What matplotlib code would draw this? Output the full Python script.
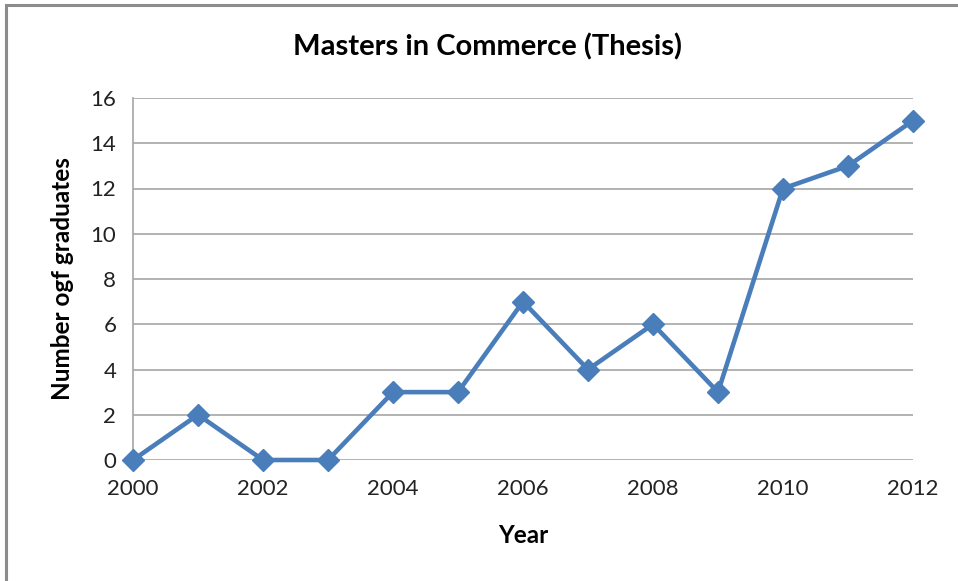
import matplotlib.pyplot as plt
from matplotlib.patches import Rectangle

years = [2000, 2001, 2002, 2003, 2004, 2005, 2006, 2007, 2008, 2009, 2010, 2011, 2012]
graduates = [0, 2, 0, 0, 3, 3, 7, 4, 6, 3, 12, 13, 15]
xticks = [2000, 2002, 2004, 2006, 2008, 2010, 2012]
yticks = [0, 2, 4, 6, 8, 10, 12, 14, 16]

plt.rcParams['font.family'] = ['Lato', 'DejaVu Sans']

W, H = 958, 581
fig = plt.figure(figsize=(W / 100, H / 100), dpi=100)

# outer chart frame (runs off the right and bottom edges)
fig.patches.append(Rectangle((6 / W, -0.05), 1.1, 1 - 5 / H + 0.05, transform=fig.transFigure,
                             fill=False, edgecolor='#8c8c8c', linewidth=2.2))

ax = fig.add_axes([133 / W, 1 - 460 / H, (913 - 133) / W, (460 - 98) / H])
ax.plot(years, graduates, color='#4a7ebb', linewidth=3.3, marker='D', markersize=11,
        clip_on=False, zorder=3)

ax.set_xlim(2000, 2012)
ax.set_ylim(0, 16)
ax.set_xticks(xticks)
ax.set_yticks(yticks)
ax.grid(axis='y', color='#a6a6a6', linewidth=1.2)
ax.set_axisbelow(True)
for side in ['top', 'right', 'bottom']:
    ax.spines[side].set_visible(False)
ax.spines['left'].set_color('#a6a6a6')
ax.spines['left'].set_linewidth(1.2)
ax.tick_params(length=0, labelsize=16, colors='#222222', pad=12)
ax.tick_params(axis='x', pad=14)

# title is centred on the whole chart frame, not the plot area
fig.text(487 / W, 1 - 47 / H, 'Masters in Commerce (Thesis)', fontsize=21,
         fontweight='bold', ha='center', va='center')
ax.set_xlabel('Year', fontsize=17.5, fontweight='bold', labelpad=18)
ax.set_ylabel('Number ogf graduates', fontsize=17.5, fontweight='bold', labelpad=12)

fig.savefig('out.png', dpi=100)
